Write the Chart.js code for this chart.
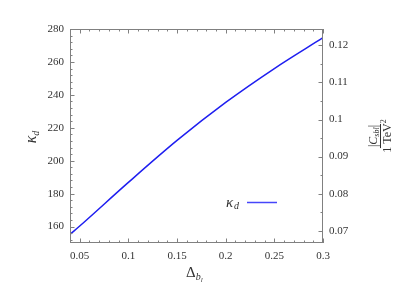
<!DOCTYPE html>
<html>
<head>
<meta charset="utf-8">
<script src="https://cdn.jsdelivr.net/npm/chart.js@4.4.0/dist/chart.umd.min.js"></script>
<style>
    body { margin: 0; background: #fff; }
    canvas { display: block; }
</style>
</head>
<body>
<canvas id="myChart" width="415" height="297"></canvas>
<script>
// P O D A T K I
const deltaValues = [0.04, 0.05, 0.1, 0.15, 0.2, 0.25, 0.3];
const kappaValues = [155.2, 160.3, 186.8, 212.3, 235.4, 256.0, 274.7];

const xTicks = [0.05, 0.1, 0.15, 0.2, 0.25, 0.3];
const xMinorStep = 0.01;
const yTicks = [160, 180, 200, 220, 240, 260, 280];
const yMinorStep = 4;
const y2Ticks = [0.07, 0.08, 0.09, 0.1, 0.11, 0.12];
const y2MinorStep = 0.005;

const kappaPerC = 2250; // desna os = kappa / 2250
const yMin = 150, yMax = 280;

const serif = "'Liberation Serif', 'DejaVu Serif', serif";
const textColor = "#333";
const lineColor = "rgb(30,30,240)";

function fmt(v) {
    return parseFloat(v.toFixed(3)).toString();
}

// risanje okvirja, notranjih crtic, naslovov osi in legende
const framePlugin = {
    id: "frame",
    afterDraw(chart) {
        const ctx = chart.ctx;
        const a = chart.chartArea;
        const sx = chart.scales.x, sy = chart.scales.y, sy2 = chart.scales.y2;
        ctx.save();
        ctx.strokeStyle = "#808080";
        ctx.lineWidth = 1;
        ctx.strokeRect(a.left + 0.5, a.top + 0.5, a.right - a.left - 1, a.bottom - a.top - 1);

        ctx.beginPath();
        // x crtice (spodaj in zgoraj)
        for (let v = 0.04; v <= 0.3 + 1e-9; v += xMinorStep) {
            const major = xTicks.some((t) => Math.abs(t - v) < 1e-6);
            const len = major ? 4.5 : 2.5;
            const px = Math.round(sx.getPixelForValue(v)) + 0.5;
            ctx.moveTo(px, a.bottom);
            ctx.lineTo(px, a.bottom - len);
            ctx.moveTo(px, a.top);
            ctx.lineTo(px, a.top + len);
        }
        // leva os
        for (let v = 152; v <= yMax + 1e-9; v += yMinorStep) {
            const major = yTicks.includes(v);
            const len = major ? 4.5 : 2.5;
            const py = Math.round(sy.getPixelForValue(v)) + 0.5;
            ctx.moveTo(a.left, py);
            ctx.lineTo(a.left + len, py);
        }
        // desna os
        for (let v = 0.07; v <= 0.1245; v += y2MinorStep) {
            const major = y2Ticks.some((t) => Math.abs(t - v) < 1e-6);
            const len = major ? 4.5 : 2.5;
            const py = Math.round(sy2.getPixelForValue(v)) + 0.5;
            ctx.moveTo(a.right, py);
            ctx.lineTo(a.right - len, py);
        }
        ctx.stroke();

        ctx.fillStyle = textColor;
        ctx.textBaseline = "alphabetic";

        // naslov leve osi: kappa_d
        ctx.save();
        ctx.translate(36, (a.top + a.bottom) / 2 + 1);
        ctx.rotate(-Math.PI / 2);
        ctx.font = "italic 16px " + serif;
        const wk = ctx.measureText("κ").width;
        ctx.font = "italic 10px " + serif;
        const wd = ctx.measureText("d").width;
        const x0 = -(wk + wd) / 2;
        ctx.font = "italic 16px " + serif;
        ctx.fillText("κ", x0, 0);
        ctx.font = "italic 10px " + serif;
        ctx.fillText("d", x0 + wk, 3);
        ctx.restore();

        // naslov x osi: Delta_{b_l}
        ctx.save();
        ctx.font = "15px " + serif;
        const wD = ctx.measureText("Δ").width;
        const xs = 186;
        ctx.fillText("Δ", xs, 277);
        ctx.font = "italic 10px " + serif;
        ctx.fillText("b", xs + wD, 280);
        const wb = ctx.measureText("b").width;
        ctx.font = "italic 7px " + serif;
        ctx.fillText("l", xs + wD + wb, 282);
        ctx.restore();

        // naslov desne osi: |C_sbl| / 1 TeV^2
        ctx.save();
        ctx.translate(381, 136);
        ctx.rotate(-Math.PI / 2);
        ctx.font = "12px " + serif;
        const wbar = ctx.measureText("|").width;
        ctx.font = "italic 12px " + serif;
        const wC = ctx.measureText("C").width;
        ctx.font = "italic 8px " + serif;
        const wsub = ctx.measureText("sbl").width;
        const numW = wbar * 2 + wC + wsub;
        let nx = -numW / 2;
        ctx.font = "12px " + serif;
        ctx.fillText("|", nx, -4);
        nx += wbar;
        ctx.font = "italic 12px " + serif;
        ctx.fillText("C", nx, -4);
        nx += wC;
        ctx.font = "italic 8px " + serif;
        ctx.fillText("sbl", nx, -2);
        nx += wsub;
        ctx.font = "12px " + serif;
        ctx.fillText("|", nx, -4);
        ctx.fillRect(-numW / 2 - 1, -1, numW + 2, 1);
        const den = "1 TeV";
        const wden = ctx.measureText(den).width;
        ctx.font = "8px " + serif;
        const w2 = ctx.measureText("2").width;
        ctx.font = "12px " + serif;
        const dx = -(wden + w2) / 2;
        ctx.fillText(den, dx, 10);
        ctx.font = "8px " + serif;
        ctx.fillText("2", dx + wden, 5);
        ctx.restore();

        // legenda
        ctx.save();
        ctx.font = "italic 15px " + serif;
        ctx.fillText("κ", 226, 207);
        ctx.font = "italic 10px " + serif;
        ctx.fillText("d", 234, 209);
        ctx.strokeStyle = "rgb(70,70,250)";
        ctx.lineWidth = 1.5;
        ctx.beginPath();
        ctx.moveTo(247, 202.5);
        ctx.lineTo(277, 202.5);
        ctx.stroke();
        ctx.restore();

        ctx.restore();
    },
};

const ctx1 = document.getElementById("myChart");

new Chart(ctx1, {
    type: "line",
    data: {
        datasets: [
            {
                label: "κd",
                data: deltaValues.map((x, i) => ({ x: x, y: kappaValues[i] })),
                borderColor: lineColor,
                borderWidth: 1.5,
                pointRadius: 0,
                cubicInterpolationMode: "monotone",
                fill: false,
            },
        ],
    },
    options: {
        responsive: false,
        animation: false,
        layout: { padding: { top: 29, left: 0, right: 0, bottom: 0 } },
        plugins: {
            legend: { display: false },
            tooltip: { enabled: false },
        },
        scales: {
            x: {
                type: "linear",
                min: 0.04,
                max: 0.3,
                grid: { display: false, drawTicks: false },
                border: { display: false },
                afterBuildTicks: (scale) => {
                    scale.ticks = xTicks.map((v) => ({ value: v }));
                },
                afterFit: (scale) => {
                    scale.height = 54;
                },
                ticks: {
                    padding: 7,
                    maxRotation: 0,
                    autoSkip: false,
                    color: textColor,
                    font: { family: serif, size: 11 },
                    callback: (v) => fmt(v),
                },
            },
            y: {
                type: "linear",
                position: "left",
                min: yMin,
                max: yMax,
                grid: { display: false, drawTicks: false },
                border: { display: false },
                afterBuildTicks: (scale) => {
                    scale.ticks = yTicks.map((v) => ({ value: v }));
                },
                afterFit: (scale) => {
                    scale.width = 70;
                },
                ticks: {
                    padding: 6,
                    color: textColor,
                    font: { family: serif, size: 11 },
                    callback: (v) => fmt(v),
                },
            },
            y2: {
                type: "linear",
                position: "right",
                min: yMin / kappaPerC,
                max: yMax / kappaPerC,
                grid: { display: false, drawTicks: false },
                border: { display: false },
                afterBuildTicks: (scale) => {
                    scale.ticks = y2Ticks.map((v) => ({ value: v }));
                },
                afterFit: (scale) => {
                    scale.width = 92;
                },
                ticks: {
                    padding: 6,
                    color: textColor,
                    font: { family: serif, size: 11 },
                    callback: (v) => fmt(v),
                },
            },
        },
    },
    plugins: [framePlugin],
});
</script>
</body>
</html>
